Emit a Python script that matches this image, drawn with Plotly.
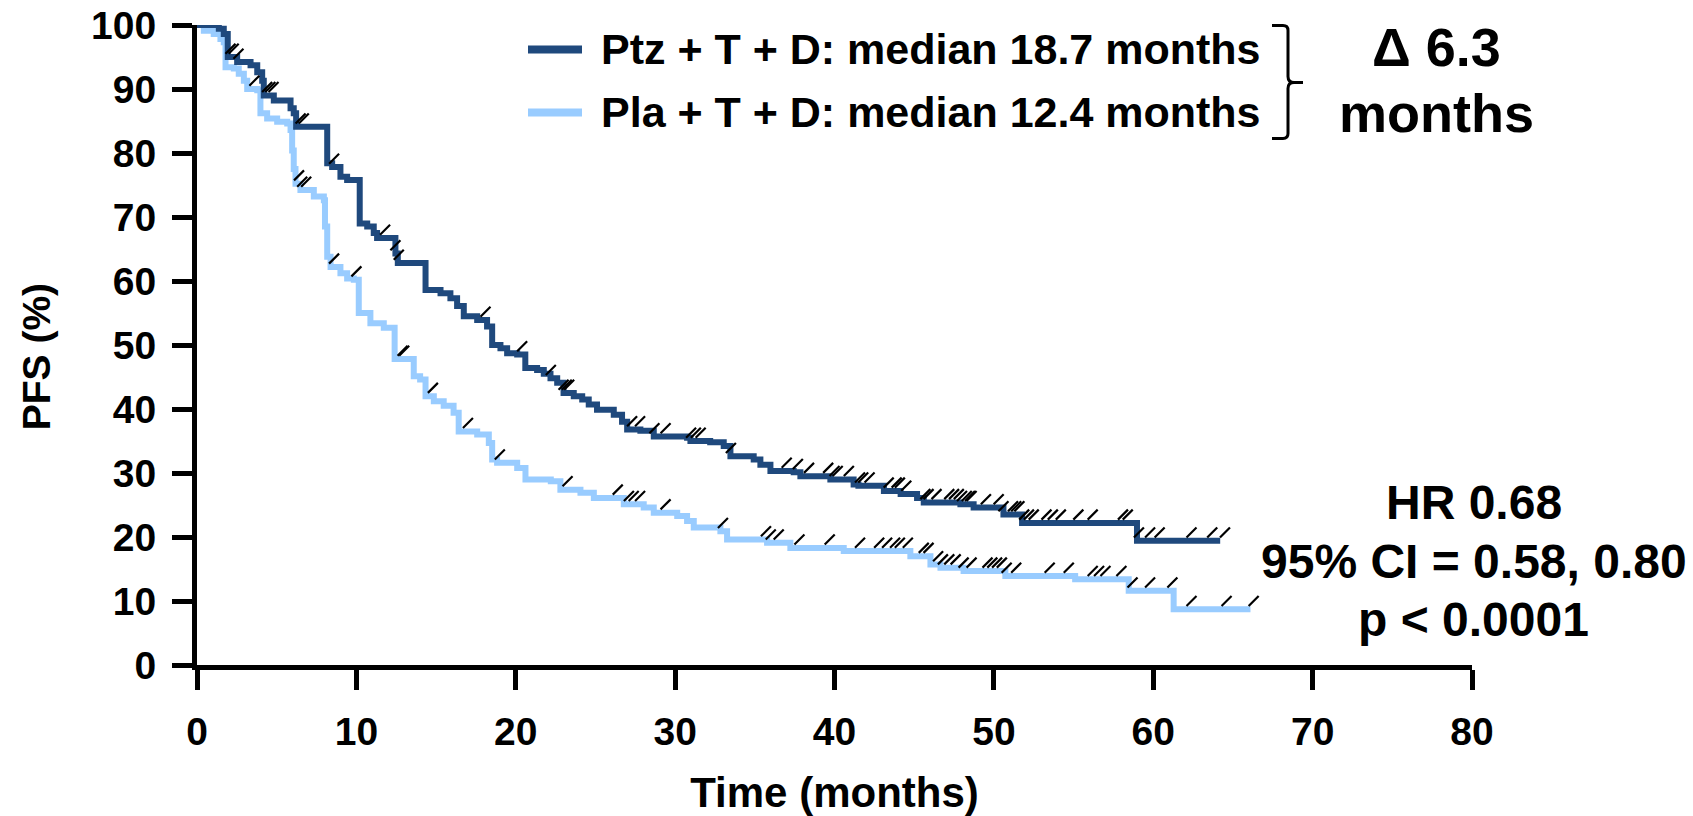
import numpy as np
import plotly.graph_objects as go

# ---------------- data ----------------
# Ptz + T + D  (event times in months, PFS % after each step)
ptz_t = [1.37, 1.68, 1.93, 2.52, 3.36, 3.78, 4.09, 4.19, 4.82, 5.87, 6.07, 6.22,
         8.17, 8.48, 9.0, 9.42, 10.21, 10.68, 11.09, 11.3, 12.45, 12.6, 14.34,
         15.28, 15.9, 16.32, 16.74, 17.58, 18.2, 18.52, 19.04, 19.46, 20.09,
         20.6, 21.34, 21.76, 22.18, 22.6, 23.0, 23.64, 24.17, 24.58, 25.1,
         26.15, 26.67, 26.99, 27.82, 28.66, 30.75, 30.96, 32.2, 33.05, 33.47,
         34.93, 35.35, 35.98, 37.44, 37.86, 39.74, 41.2, 41.5, 43.1, 44.15,
         45.18, 45.6, 47.9, 48.73, 50.6, 51.77, 58.98]
ptz_s = [99.4, 98.6, 95.0, 94.2, 93.7, 92.6, 91.3, 89.0, 88.2, 87.0, 86.2, 84.1,
         78.4, 77.8, 76.3, 75.8, 69.0, 68.5, 67.5, 66.7, 64.3, 62.8, 58.6,
         58.1, 57.3, 56.1, 54.5, 53.9, 52.9, 50.0, 49.5, 48.7, 48.5,
         46.4, 46.1, 45.5, 44.8, 44.1, 42.5, 42.0, 41.5, 40.7, 39.9,
         39.1, 38.0, 36.8, 36.6, 35.7, 35.5, 35.0, 34.8, 34.2, 32.6,
         32.1, 31.3, 30.3, 30.1, 29.5, 29.0, 28.2, 28.0, 27.2, 26.7,
         26.1, 25.4, 25.1, 24.6, 23.5, 22.2, 19.4]
ptz_end = 64.2
ptz_cens = [0.4, 2.1, 2.3, 2.6, 4.4, 4.6, 4.8, 6.5, 6.7, 8.6, 11.8, 12.45, 12.66,
            18.1, 20.4, 22.2, 23.0, 23.2, 23.35, 27.3, 27.8, 28.7, 29.4, 31.0,
            31.3, 31.6, 33.5, 37.0, 37.7, 38.4, 39.6, 40.0, 40.2, 40.9, 41.6,
            41.8, 42.2, 43.4, 43.9, 44.1, 44.5, 45.7, 45.9, 46.4, 47.2, 47.5,
            47.8, 48.0, 48.3, 48.5, 48.6, 49.5, 50.3, 50.6, 51.2, 51.4, 51.6,
            51.9, 52.2, 52.5, 53.3, 53.7, 54.2, 55.3, 56.2, 58.1, 58.4, 59.1,
            59.8, 60.4, 62.4, 63.7, 64.5]

# Pla + T + D
pla_t = [0.43, 1.05, 1.47, 1.68, 1.79, 2.31, 2.62, 2.94, 3.15, 3.78, 3.98, 4.4,
         5.03, 5.66, 5.87, 5.97, 6.07, 6.18, 6.49, 7.33, 7.96, 8.03, 8.17,
         8.38, 9.0, 9.42, 9.84, 10.15, 10.88, 11.72, 12.4, 13.6, 14.0, 14.34,
         14.86, 15.48, 16.1, 16.42, 17.58, 18.31, 18.52, 18.83, 20.09, 20.61,
         22.2, 22.8, 24.06, 24.9, 26.78, 28.03, 28.66, 30.13, 30.75, 31.17,
         32.84, 33.26, 35.77, 37.23, 40.58, 44.76, 46.02, 46.65, 48.1, 50.72,
         55.1, 58.46, 61.28]
pla_s = [99.1, 98.6, 97.8, 97.3, 93.4, 93.2, 92.4, 91.3, 90.0, 89.8, 86.2, 85.4,
         84.9, 84.6, 83.6, 80.4, 77.5, 75.2, 74.2, 73.2, 72.6, 68.5, 63.8,
         62.2, 61.2, 60.4, 60.2, 55.0, 53.4, 52.7, 47.8, 45.1, 44.6, 42.0,
         41.2, 40.5, 39.4, 36.5, 36.0, 34.7, 32.1, 31.6, 30.8, 29.0,
         28.7, 27.4, 26.9, 26.1, 25.1, 24.6, 23.8, 23.3, 22.5, 21.5,
         20.9, 19.6, 19.1, 18.3, 17.8, 17.0, 15.7, 15.2, 14.7, 13.9,
         13.4, 11.6, 8.7]
pla_end = 66.1
pla_cens = [3.6, 6.4, 6.6, 6.85, 8.6, 10.0, 12.9, 13.0, 14.8, 17.0, 19.0, 23.25,
            26.4, 27.1, 27.4, 27.8, 29.4, 33.0, 35.7, 36.0, 36.5, 37.8, 39.7,
            41.6, 42.8, 43.3, 43.8, 44.1, 44.6, 45.6, 45.9, 46.5, 46.8, 47.2,
            47.6, 48.1, 48.6, 49.6, 49.9, 50.2, 50.5, 50.8, 51.4, 53.5, 54.7,
            56.2, 56.6, 57.0, 58.0, 58.7, 59.8, 61.2, 62.4, 64.6, 66.3]

x_ticks = [0, 10, 20, 30, 40, 50, 60, 70, 80]
y_ticks = [0, 10, 20, 30, 40, 50, 60, 70, 80, 90, 100]

labels = ["Ptz + T + D: median 18.7 months", "Pla + T + D: median 12.4 months"]
delta_text = ["\u0394 6.3", "months"]
stats_text = ["HR 0.68", "95% CI = 0.58, 0.80", "p < 0.0001"]
x_title = "Time (months)"
y_title = "PFS (%)"

# ---------------- style ----------------
DARK = "#1F497D"
LIGHT = "#99CCFF"
FONT = "Arial, Liberation Sans, sans-serif"
W, H = 1693, 816
L, R, T, B = 197, 221, 24.5, 151
PW, PH = W - L - R, H - T - B


def px(X):
    return (X - L) / PW


def py(Y):
    return (H - B - Y) / PH


def step_curve(times, surv, end):
    xs = [0.0] + list(times) + [end]
    ys = [100.0] + list(surv) + [surv[-1]]
    return xs, ys


def surv_at(times, surv, c):
    ta = np.array([0.0] + list(times))
    sa = np.array([100.0] + list(surv))
    idx = np.searchsorted(ta, np.array(c), side="right") - 1
    return sa[idx]


fig = go.Figure()
for times, surv, end, col in [
    (pla_t, pla_s, pla_end, LIGHT),
    (ptz_t, ptz_s, ptz_end, DARK),
]:
    xs, ys = step_curve(times, surv, end)
    fig.add_trace(go.Scatter(x=xs, y=ys, mode="lines", line=dict(color=col, width=6, shape="hv"),
                             cliponaxis=False, showlegend=False, hoverinfo="skip"))
for times, surv, cens in [(pla_t, pla_s, pla_cens), (ptz_t, ptz_s, ptz_cens)]:
    cy = surv_at(times, surv, cens) + 1.3
    fig.add_trace(go.Scatter(x=cens, y=cy, mode="markers",
                             marker=dict(symbol="line-ne", size=10, color="black",
                                         line=dict(color="black", width=2.2)),
                             cliponaxis=False, showlegend=False, hoverinfo="skip"))

axis_common = dict(showline=True, linewidth=5, linecolor="black", ticks="outside",
                   ticklen=20, tickwidth=5, tickcolor="black", showgrid=False,
                   zeroline=False, automargin=False,
                   tickfont=dict(family=FONT, size=39, color="black", weight="bold"))

fig.update_xaxes(range=[0, 80], tickvals=x_ticks, ticklabelstandoff=8,
                 title=dict(text=x_title, standoff=33,
                            font=dict(family=FONT, size=42, color="black", weight="bold")),
                 **axis_common)
fig.update_yaxes(range=[0, 100], tickvals=y_ticks, ticklabelstandoff=8, **axis_common)

shapes = []
annotations = []

# y-axis title (placed slightly below the plot centre, as in the reference)
annotations.append(dict(text=y_title, x=px(36), y=py(357), xref="paper", yref="paper",
                        xanchor="center", yanchor="middle", textangle=-90, showarrow=False,
                        font=dict(family=FONT, size=39, color="black", weight="bold")))

for i, (lab, col) in enumerate(zip(labels, [DARK, LIGHT])):
    Yc = [49, 112][i]
    shapes.append(dict(type="line", xref="paper", yref="paper", x0=px(528), x1=px(582),
                       y0=py(Yc), y1=py(Yc), line=dict(color=col, width=8)))
    annotations.append(dict(text=lab, x=px(599), y=py(Yc), xref="paper", yref="paper",
                            xanchor="left", yanchor="middle", showarrow=False,
                            font=dict(family=FONT, size=43, color="black", weight="bold")))

# bracket
pts = "M {a},{b} L {c},{b} Q {d},{b} {d},{e} L {d},{f} Q {d},{g} {h},{g} L {i},{g} " \
      "M {h},{g} Q {d},{g} {d},{j} L {d},{k} Q {d},{m} {c},{m} L {a},{m}"
path = pts.format(a=px(1272), b=py(25), c=px(1283), d=px(1288), e=py(30), f=py(76),
                  g=py(82), h=px(1294), i=px(1303), j=py(88), k=py(133), m=py(138))
shapes.append(dict(type="path", xref="paper", yref="paper", path=path,
                   line=dict(color="black", width=3)))

for txt, Yc in zip(delta_text, [47, 113]):
    annotations.append(dict(text=txt, x=px(1436), y=py(Yc), xref="paper", yref="paper",
                            xanchor="center", yanchor="middle", showarrow=False,
                            font=dict(family=FONT, size=54, color="black", weight="bold")))
for txt, Yc in zip(stats_text, [502, 561, 619]):
    annotations.append(dict(text=txt, x=px(1474), y=py(Yc), xref="paper", yref="paper",
                            xanchor="center", yanchor="middle", showarrow=False,
                            font=dict(family=FONT, size=48, color="black", weight="bold")))

fig.update_layout(width=W, height=H, margin=dict(l=L, r=R, t=T, b=B, autoexpand=False),
                  plot_bgcolor="white", paper_bgcolor="white", shapes=shapes,
                  annotations=annotations, showlegend=False)

fig.write_html("out.html", config={"displayModeBar": False},
               post_script="document.body.style.margin='0';document.body.style.padding='0';")
